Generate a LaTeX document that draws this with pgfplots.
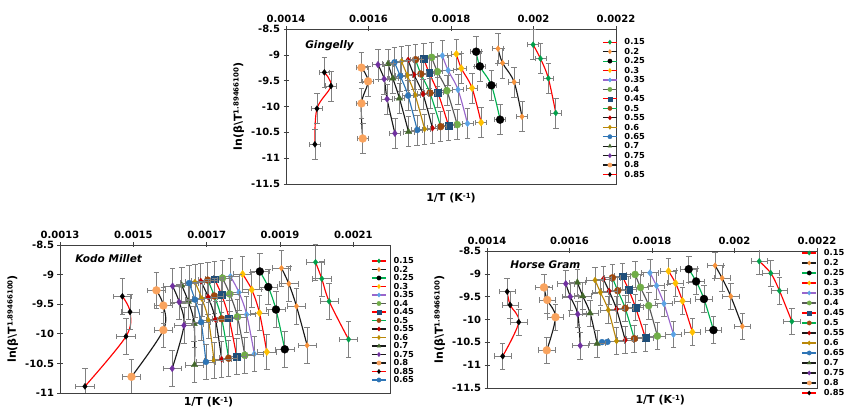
\documentclass[border=0pt]{standalone}
\usepackage{fontspec}
\setmainfont{DejaVu Sans}
\usepackage{pgfplots}
\pgfplotsset{compat=1.18}

% line colours
\definecolor{lRed}{HTML}{FF0000}
\definecolor{lBlack}{HTML}{1A1A1A}
\definecolor{lGreen}{HTML}{00B050}
\definecolor{lPurple}{HTML}{9966CC}
\definecolor{lGray}{HTML}{595959}
\definecolor{lGold}{HTML}{B8860B}
\definecolor{lBlue}{HTML}{2E75B6}
% marker colours
\definecolor{mGreen}{HTML}{00A04A}
\definecolor{mOrange}{HTML}{F7923A}
\definecolor{mYellow}{HTML}{FFC000}
\definecolor{mSky}{HTML}{5BA3E6}
\definecolor{mOlive}{HTML}{70AD47}
\definecolor{mNavy}{HTML}{1F4E79}
\definecolor{mBrown}{HTML}{9E480E}
\definecolor{mRed}{HTML}{C00000}
\definecolor{mGold}{HTML}{BF8F00}
\definecolor{mBlue}{HTML}{2E75B6}
\definecolor{mDGreen}{HTML}{43682B}
\definecolor{mPurple}{HTML}{7030A0}
\definecolor{mPeach}{HTML}{F9A35E}

\pgfplotsset{
  base/.style={line width=1.15pt, smooth, tension=0.55},
  mk/.style={mark options={solid, draw=#1, fill=#1, line width=0.3pt}},
  s15/.style={base, color=lRed,   mark=diamond*,   mark size=3.0pt, mk=mGreen},
  s20/.style={base, color=lBlack, mark=diamond*,   mark size=3.0pt, mk=mOrange},
  s25/.style={base, color=lGreen, mark=*,          mark size=4.0pt, mk=black},
  s30/.style={base, color=lRed,   mark=diamond*,   mark size=3.7pt, mk=mYellow},
  s35/.style={base, color=lPurple,mark=diamond*,   mark size=3.3pt, mk=mSky},
  s40/.style={base, color=lGray,  mark=*,          mark size=3.6pt, mk=mOlive},
  s45/.style={base, color=lRed,   mark=square*,    mark size=3.4pt, mk=mNavy},
  s50/.style={base, color=lGreen, mark=*,          mark size=3.5pt, mk=mBrown},
  s55/.style={base, color=lBlack, mark=diamond*,   mark size=3.0pt, mk=mRed},
  s60/.style={base, color=lGold,  mark=diamond*,   mark size=3.0pt, mk=mGold},
  s65/.style={base, color=lBlue,  mark=*,          mark size=3.0pt, mk=mBlue},
  s70/.style={base, color=lBlack, mark=triangle*,  mark size=3.7pt, mk=mDGreen},
  s75/.style={base, color=lBlack, mark=diamond*,   mark size=3.3pt, mk=mPurple},
  s80/.style={base, color=lBlack, mark=*,          mark size=4.0pt, mk=mPeach},
  s85/.style={base, color=lRed,   mark=diamond*,   mark size=3.0pt, mk=black},
  errs/.style 2 args={every axis plot/.append style={
      /pgfplots/error bars/x dir=both, /pgfplots/error bars/x fixed=#1,
      /pgfplots/error bars/y dir=both, /pgfplots/error bars/y fixed=#2,
      /pgfplots/error bars/error bar style={black!50, line width=0.7pt},
      /pgfplots/error bars/error mark options={rotate=90, black!50, mark size=2.8pt, line width=0.7pt}}},
  noerr/.style={/pgfplots/error bars/x dir=none, /pgfplots/error bars/y dir=none},
  panel/.style={
    scale only axis, width=330pt, xmax=0.0022,
    clip mode=individual, scaled x ticks=false, scaled y ticks=false,
    axis line style={black!75, line width=0.6pt},
    xtick pos=right, xticklabel pos=right, ytick pos=left,
    tick align=center, major tick length=5pt,
    tick style={black!75, line width=0.6pt},
    tick label style={font=\bfseries\fontsize{10}{12}\selectfont},
    ylabel={ln(β\textbackslash T\raisebox{0.55ex}{\fontsize{7}{7}\selectfont 1.89466100})},
    ylabel style={font=\bfseries\fontsize{11}{13}\selectfont},
    legend cell align=left,
    legend image code/.code={\draw[mark repeat=2,mark phase=2]
      plot coordinates {(0pt,0pt)(7pt,0pt)(14pt,0pt)};},
    legend image post style={mark size=2.2pt},
  },
  lgd/.style n args={3}{legend style={at={(rel axis cs:#1,#2)}, anchor=north west,
      draw=none, fill=none, inner sep=0pt, column sep=6.5pt, row sep=#3,
      font=\bfseries\fontsize{8.3}{8.3}\selectfont,
      nodes={inner sep=0.5pt, text height=5.6pt, text depth=0pt, anchor=west}}},
}
\newcommand{\xlab}{1/T (K\raisebox{0.6ex}{\fontsize{7}{7}\selectfont -1})}

\begin{document}
\begin{tikzpicture}
\useasboundingbox (0,0) rectangle (844pt,414pt);

% ---------------- Gingelly ----------------
\begin{axis}[panel, at={(286pt,230pt)}, anchor=south west, height=155pt,
  xmin=0.0014, ymin=-11.5, ymax=-8.5,
  xtick={0.0014,0.0016,0.0018,0.002,0.0022},
  xticklabels={0.0014,0.0016,0.0018,0.002,0.0022},
  ytick={-11.5,-11,-10.5,-10,-9.5,-9,-8.5},
  yticklabels={-11.5,-11,-10.5,-10,-9.5,-9,-8.5},
  errs={1.3e-5}{0.29}, lgd={0.9580}{0.9374}{2.85pt}]
\addplot[s15] coordinates {(0.001999,-8.803) (0.002017,-9.074) (0.002036,-9.455) (0.002054,-10.126)};
\addplot[s20] coordinates {(0.001914,-8.881) (0.001925,-9.158) (0.001953,-9.526) (0.001972,-10.197)};
\addplot[s25] coordinates {(0.001861,-8.939) (0.001870,-9.223) (0.001898,-9.590) (0.001919,-10.255)};
\addplot[s30] coordinates {(0.001813,-8.984) (0.001825,-9.261) (0.001851,-9.642) (0.001873,-10.310)};
\addplot[s35] coordinates {(0.001779,-9.016) (0.001793,-9.300) (0.001817,-9.674) (0.001840,-10.330)};
\addplot[s40] coordinates {(0.001753,-9.048) (0.001767,-9.326) (0.001790,-9.694) (0.001815,-10.350)};
\addplot[s45] coordinates {(0.001734,-9.074) (0.001747,-9.352) (0.001768,-9.726) (0.001794,-10.370)};
\addplot[s50] coordinates {(0.001714,-9.094) (0.001727,-9.371) (0.001749,-9.739) (0.001775,-10.390)};
\addplot[s55] coordinates {(0.001696,-9.100) (0.001710,-9.384) (0.001732,-9.758) (0.001755,-10.420)};
\addplot[s60] coordinates {(0.001680,-9.126) (0.001694,-9.397) (0.001713,-9.777) (0.001736,-10.435)};
\addplot[s65] coordinates {(0.001663,-9.145) (0.001677,-9.410) (0.001696,-9.790) (0.001718,-10.455)};
\addplot[s70] coordinates {(0.001647,-9.177) (0.001659,-9.455) (0.001675,-9.842) (0.001697,-10.490)};
\addplot[s75] coordinates {(0.001623,-9.190) (0.001638,-9.468) (0.001645,-9.855) (0.001664,-10.520)};
\addplot[s80] coordinates {(0.001583,-9.248) (0.001599,-9.513) (0.001583,-9.940) (0.001586,-10.620)};
\addplot[s85] coordinates {(0.001493,-9.340) (0.001509,-9.603) (0.001475,-10.042) (0.001470,-10.732)};
\legend{0.15,0.2,0.25,0.3,0.35,0.4,0.45,0.5,0.55,0.6,0.65,0.7,0.75,0.8,0.85}
\node[font=\bfseries\itshape\fontsize{10.5}{12}\selectfont, anchor=west] at (rel axis cs:0.048,0.89) {Gingelly};
\node[font=\bfseries\fontsize{11}{13}\selectfont, anchor=north, inner sep=0pt] at (rel axis cs:0.5,0) [yshift=-9pt] {\xlab};
\end{axis}

% ---------------- Kodo Millet ----------------
\begin{axis}[panel, at={(60pt,21pt)}, anchor=south west, height=148pt,
  xmin=0.0013, ymin=-11, ymax=-8.5,
  xtick={0.0013,0.0015,0.0017,0.0019,0.0021},
  xticklabels={0.0013,0.0015,0.0017,0.0019,0.0021},
  ytick={-11,-10.5,-10,-9.5,-9,-8.5},
  yticklabels={-11,-10.5,-10,-9.5,-9,-8.5},
  errs={2.5e-5}{0.3}, lgd={0.943}{0.9155}{1.9pt}]
\addplot[s15] coordinates {(0.001997,-8.791) (0.002014,-9.070) (0.002034,-9.451) (0.002087,-10.094)};
\addplot[s20] coordinates {(0.001904,-8.891) (0.001924,-9.154) (0.001945,-9.535) (0.001974,-10.195)};
\addplot[s25] coordinates {(0.001845,-8.947) (0.001868,-9.210) (0.001889,-9.591) (0.001913,-10.262)};
\addplot[s30] coordinates {(0.001798,-8.992) (0.001823,-9.255) (0.001844,-9.647) (0.001864,-10.306)};
\addplot[s35] coordinates {(0.001765,-9.031) (0.001788,-9.300) (0.001809,-9.674) (0.001830,-10.340)};
\addplot[s40] coordinates {(0.001743,-9.059) (0.001763,-9.328) (0.001784,-9.714) (0.001804,-10.362)};
\addplot[s45] coordinates {(0.001721,-9.076) (0.001741,-9.345) (0.001761,-9.736) (0.001782,-10.385)};
\addplot[s50] coordinates {(0.001703,-9.093) (0.001721,-9.361) (0.001741,-9.747) (0.001760,-10.413)};
\addplot[s55] coordinates {(0.001684,-9.110) (0.001704,-9.378) (0.001724,-9.758) (0.001741,-10.430)};
\addplot[s60] coordinates {(0.001668,-9.126) (0.001687,-9.406) (0.001705,-9.770) (0.001720,-10.452)};
\addplot[s70] coordinates {(0.001632,-9.182) (0.001650,-9.456) (0.001666,-9.831) (0.001667,-10.525)};
\addplot[s75] coordinates {(0.001607,-9.194) (0.001625,-9.462) (0.001638,-9.859) (0.001606,-10.586)};
\addplot[s80] coordinates {(0.001563,-9.266) (0.001582,-9.523) (0.001582,-9.937) (0.001495,-10.726)};
\addplot[s85] coordinates {(0.001470,-9.367) (0.001491,-9.630) (0.001480,-10.044) (0.001368,-10.888)};
\addplot[s65] coordinates {(0.001652,-9.143) (0.001668,-9.423) (0.001685,-9.803) (0.001698,-10.474)};
\legend{0.15,0.2,0.25,0.3,0.35,0.4,0.45,0.5,0.55,0.6,0.7,0.75,0.8,0.85,0.65}
\node[font=\bfseries\itshape\fontsize{10.5}{12}\selectfont, anchor=west] at (rel axis cs:0.036,0.905) {Kodo Millet};
\node[font=\bfseries\fontsize{11}{13}\selectfont, anchor=north, inner sep=0pt] at (rel axis cs:0.45,0) [yshift=-4pt] {\xlab};
\end{axis}

% ---------------- Horse Gram ----------------
\begin{axis}[panel, at={(487pt,26pt)}, anchor=south west, height=137pt,
  xmin=0.0014, ymin=-11.5, ymax=-8.5,
  xtick={0.0014,0.0016,0.0018,0.002,0.0022},
  xticklabels={0.0014,0.0016,0.0018,0.002,0.0022},
  ytick={-11.5,-11,-10.5,-10,-9.5,-9,-8.5},
  yticklabels={-11.5,-11,-10.5,-10,-9.5,-9,-8.5},
  errs={2e-5}{0.29}, lgd={0.953}{1.011}{3.4pt}]
\addplot[s15] coordinates {(0.002060,-8.725) (0.002088,-8.986) (0.002109,-9.370) (0.002139,-10.043)};
\addplot[s20] coordinates {(0.001953,-8.819) (0.001970,-9.094) (0.001991,-9.493) (0.002019,-10.152)};
\addplot[s25] coordinates {(0.001889,-8.899) (0.001907,-9.167) (0.001926,-9.551) (0.001949,-10.232)};
\addplot[s30] coordinates {(0.001840,-8.942) (0.001857,-9.203) (0.001874,-9.594) (0.001898,-10.275)};
\addplot[s35] coordinates {(0.001795,-8.978) (0.001811,-9.261) (0.001829,-9.652) (0.001852,-10.326)};
\addplot[s40] coordinates {(0.001759,-9.014) (0.001772,-9.297) (0.001792,-9.696) (0.001813,-10.362)};
\addplot[s45] coordinates {(0.001728,-9.051) (0.001743,-9.341) (0.001760,-9.732) (0.001784,-10.399)};
\addplot[s50] coordinates {(0.001704,-9.087) (0.001717,-9.370) (0.001735,-9.754) (0.001757,-10.420)};
\addplot[s55] coordinates {(0.001682,-9.116) (0.001696,-9.377) (0.001714,-9.775) (0.001735,-10.449)};
\addplot[s60] coordinates {(0.001662,-9.138) (0.001675,-9.406) (0.001694,-9.790) (0.001714,-10.471)};
\addplot[s65, noerr] coordinates {(0.001679,-10.495) (0.001692,-10.490)};
\addplot[s70] coordinates {(0.001619,-9.188) (0.001632,-9.486) (0.001650,-9.862) (0.001667,-10.529)};
\addplot[s75] coordinates {(0.001591,-9.217) (0.001602,-9.500) (0.001620,-9.884) (0.001626,-10.572)};
\addplot[s80] coordinates {(0.001538,-9.297) (0.001546,-9.572) (0.001566,-9.949) (0.001545,-10.674)};
\addplot[s85] coordinates {(0.001449,-9.391) (0.001456,-9.681) (0.001477,-10.058) (0.001438,-10.804)};
\legend{0.15,0.2,0.25,0.3,0.35,0.4,0.45,0.5,0.55,0.6,0.65,0.7,0.75,0.8,0.85}
\node[font=\bfseries\itshape\fontsize{10.5}{12}\selectfont, anchor=west] at (rel axis cs:0.06,0.9) {Horse Gram};
\node[font=\bfseries\fontsize{11}{13}\selectfont, anchor=north, inner sep=0pt] at (rel axis cs:0.525,0) [yshift=-7pt] {\xlab};
\end{axis}
\end{tikzpicture}
\end{document}
